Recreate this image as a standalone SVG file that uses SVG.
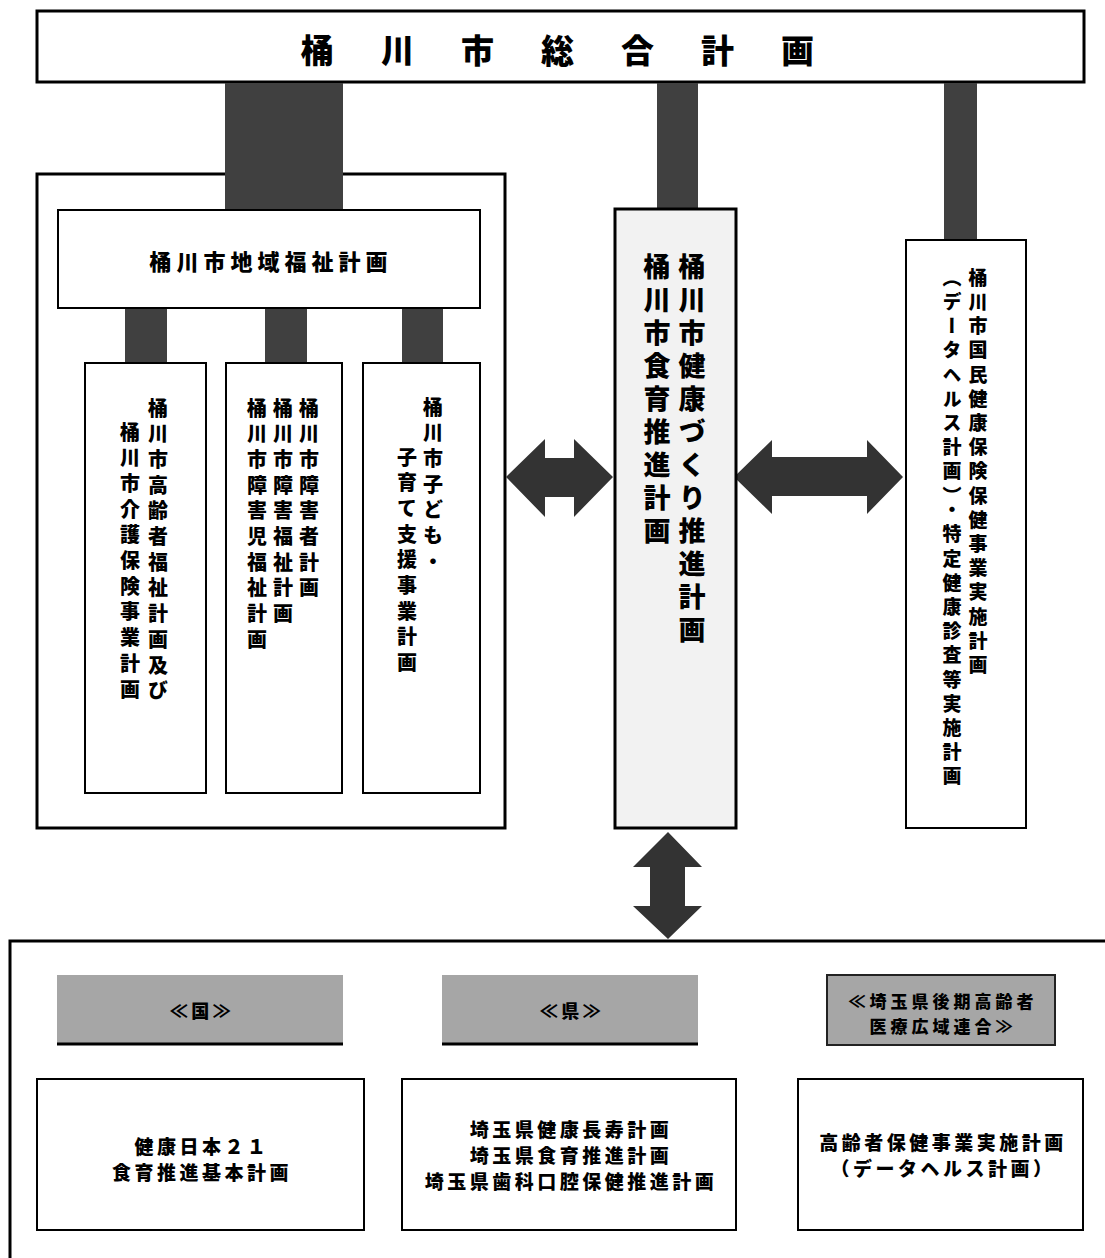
<svg xmlns="http://www.w3.org/2000/svg" width="1105" height="1258" viewBox="0 0 1105 1258">
<style>
  text { font-family: "Noto Sans CJK JP", "Noto Sans CJK SC", sans-serif; font-weight: 900; fill: #000; }
  .box { fill: #fff; stroke: #000; stroke-width: 2; }
  .boxt { fill: #fff; stroke: #000; stroke-width: 3; }
  .bar { fill: #404040; }
  .arrow { fill: #333333; }
  .gray { fill: #a6a6a6; }
  .v { writing-mode: vertical-rl; }
  .vs { font-size: 20px; letter-spacing: 5.7px; }
  .vm { font-size: 27px; letter-spacing: 6px; }
  .vr { font-size: 19px; letter-spacing: 5.2px; }
  .b { font-size: 19px; letter-spacing: 3.5px; text-anchor: middle; }
</style>

<g id="title">
  <rect class="boxt" x="37" y="11" width="1047" height="71"/>
  <text x="301" y="63" style="font-size:33px; letter-spacing:47px;">桶川市総合計画</text>
</g>

<g id="welfare-group">
  <rect class="boxt" x="37" y="174" width="468" height="654"/>
</g>

<g id="connectors">
  <rect class="bar" x="225" y="83" width="118" height="127"/>
  <rect class="bar" x="657" y="83" width="41" height="126"/>
  <rect class="bar" x="944" y="83" width="33" height="157"/>
  <rect class="bar" x="125" y="308" width="42" height="55"/>
  <rect class="bar" x="265" y="308" width="42" height="55"/>
  <rect class="bar" x="402" y="308" width="41" height="55"/>
  <polygon class="arrow" points="506,477 545,439 545,458 574,458 574,439 613,477 574,517 574,497 545,497 545,517"/>
  <polygon class="arrow" points="734,477 772,440 772,457 867,457 867,440 903,477 867,514 867,496 772,496 772,514"/>
  <polygon class="arrow" points="668,832 702,867 685,867 685,906 702,906 668,939 633,906 650,906 650,867 633,867"/>
</g>

<g id="chiiki">
  <rect class="box" x="58" y="210" width="422" height="98"/>
  <text x="271" y="270" style="font-size:22px; letter-spacing:5px; text-anchor:middle;">桶川市地域福祉計画</text>
</g>

<g id="koreisha">
  <rect class="box" x="85" y="363" width="121" height="430"/>
  <text class="v vs" x="158" y="398">桶川市高齢者福祉計画及び</text>
  <text class="v vs" x="130" y="422">桶川市介護保険事業計画</text>
</g>

<g id="shogai">
  <rect class="box" x="226" y="363" width="116" height="430"/>
  <text class="v vs" x="309" y="398">桶川市障害者計画</text>
  <text class="v vs" x="283" y="398">桶川市障害福祉計画</text>
  <text class="v vs" x="257" y="398">桶川市障害児福祉計画</text>
</g>

<g id="kodomo">
  <rect class="box" x="363" y="363" width="117" height="430"/>
  <text class="v vs" x="433" y="397">桶川市子ども・</text>
  <text class="v vs" x="407" y="447">子育て支援事業計画</text>
</g>

<g id="kenko">
  <rect x="615" y="209" width="121" height="619" style="fill:#f2f2f2; stroke:#000; stroke-width:3;"/>
  <text class="v vm" x="692" y="253">桶川市健康づくり推進計画</text>
  <text class="v vm" x="657" y="253">桶川市食育推進計画</text>
</g>

<g id="kokuho">
  <rect class="box" x="906" y="240" width="120" height="588"/>
  <text class="v vr" x="978" y="268">桶川市国民健康保険保健事業実施計画</text>
  <text class="v vr" x="952" y="268">（データヘルス計画）・特定健康診査等実施計画</text>
</g>

<g id="related">
  <path d="M10,1258 V941 H1105" style="fill:none; stroke:#000; stroke-width:3;"/>
</g>

<g id="kuni-label">
  <rect class="gray" x="57" y="975" width="286" height="70"/>
  <line x1="57" y1="1044" x2="343" y2="1044" style="stroke:#000; stroke-width:3;"/>
  <text class="b" x="202" y="1018" style="font-size:18px;">≪国≫</text>
</g>

<g id="ken-label">
  <rect class="gray" x="442" y="975" width="256" height="70"/>
  <line x1="442" y1="1044" x2="698" y2="1044" style="stroke:#000; stroke-width:3;"/>
  <text class="b" x="572" y="1018" style="font-size:18px;">≪県≫</text>
</g>

<g id="koiki-label">
  <rect x="827" y="975" width="228" height="70" style="fill:#a6a6a6; stroke:#222; stroke-width:2;"/>
  <text class="b" style="font-size:17px; letter-spacing:4px;"><tspan x="943" y="1008">≪埼玉県後期高齢者</tspan><tspan x="943" y="1033">医療広域連合≫</tspan></text>
</g>

<g id="kuni">
  <rect class="box" x="37" y="1079" width="327" height="151"/>
  <text class="b"><tspan x="202" y="1154">健康日本２１</tspan><tspan x="202" y="1180">食育推進基本計画</tspan></text>
</g>

<g id="ken">
  <rect class="box" x="402" y="1079" width="334" height="151"/>
  <text class="b"><tspan x="571" y="1137">埼玉県健康長寿計画</tspan><tspan x="571" y="1163">埼玉県食育推進計画</tspan><tspan x="571" y="1189">埼玉県歯科口腔保健推進計画</tspan></text>
</g>

<g id="koiki">
  <rect class="box" x="798" y="1079" width="285" height="151"/>
  <text class="b"><tspan x="943" y="1150">高齢者保健事業実施計画</tspan><tspan x="943" y="1176">（データヘルス計画）</tspan></text>
</g>
</svg>
